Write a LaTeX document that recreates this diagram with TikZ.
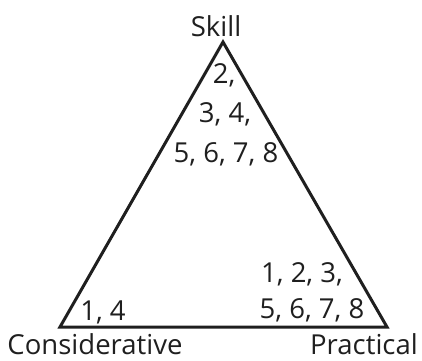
\documentclass[tikz,border=0pt]{standalone}
\usepackage{fontspec}
\setmainfont{Open Sans}
\begin{document}
\begin{tikzpicture}[x=1pt,y=-1pt,
  lbl/.style={inner sep=0pt,anchor=base,font=\fontsize{27.5}{32}\selectfont,text=black!88},
  tri/.style={draw=black!88,line width=3pt,line join=miter}]
\useasboundingbox (0,0) rectangle (422,360);
\coordinate (S) at (223,42);
\coordinate (C) at (60,327);
\coordinate (P) at (387,327);
\draw[tri] (S) -- (C) -- (P) -- cycle;
\node[lbl] (skill) at (216,36) {Skill};
\node[lbl] (cons) at (95,354) {Considerative};
\node[lbl] (prac) at (364,354) {Practical};
\node[lbl] (t1) at (224,83) {2,};
\node[lbl] (t2) at (225,122) {3, 4,};
\node[lbl] (t3) at (226,162) {5, 6, 7, 8};
\node[lbl] (l1) at (103,320) {1, 4};
\node[lbl] (r1) at (302,282) {1, 2, 3,};
\node[lbl] (r2) at (312,318) {5, 6, 7, 8};
\end{tikzpicture}
\end{document}
